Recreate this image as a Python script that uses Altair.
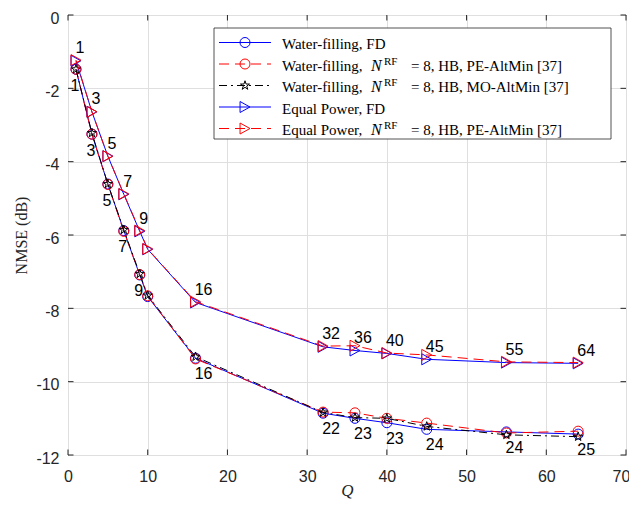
import math
import altair as alt
import pandas as pd

# ---------------- data ----------------
Q = [1, 3, 5, 7, 9, 10, 16, 32, 36, 40, 45, 55, 64]
wf_fd = [-1.48, -3.25, -4.61, -5.88, -7.09, -7.68, -9.36, -10.86, -11.00, -11.12, -11.30, -11.37, -11.43]
wf_hb_pe = [-1.48, -3.25, -4.62, -5.90, -7.08, -7.66, -9.38, -10.83, -10.85, -11.00, -11.13, -11.40, -11.35]
wf_hb_mo = [-1.48, -3.22, -4.61, -5.86, -7.06, -7.65, -9.32, -10.84, -10.98, -11.00, -11.22, -11.45, -11.50]
ep_fd = [-1.25, -2.64, -3.85, -4.89, -5.90, -6.39, -7.84, -9.05, -9.15, -9.23, -9.39, -9.48, -9.50]
ep_hb_pe = [-1.23, -2.64, -3.85, -4.88, -5.88, -6.38, -7.82, -9.03, -9.02, -9.22, -9.27, -9.46, -9.48]
ep_labels = ["1", "3", "5", "7", "9", None, "16", "32", "36", "40", "45", "55", "64"]
wf_labels = ["1", "3", "5", "7", "9", None, "16", "22", "23", "23", "24", "24", "25"]
x_ticks = [0, 10, 20, 30, 40, 50, 60, 70]
y_ticks = [-12, -10, -8, -6, -4, -2, 0]

legend_prefix = ["Water-filling, FD", "Water-filling, ", "Water-filling, ", "Equal Power, FD", "Equal Power, "]
legend_suffix = [None, "= 8, HB, PE-AltMin [37]", "= 8, HB, MO-AltMin [37]", None, "= 8, HB, PE-AltMin [37]"]

# ---------------- styles ----------------
W, H = 558, 440
OX, OY = 68, 15  # plot origin on the page
AX = "#262626"
GRID = "#dfdfdf"
SANS = "Liberation Sans"
SERIF = "Liberation Serif"
MINUS_FIX = "replace(datum.label, '\u2212', '-')"


def star_path():
    pts = []
    for k in range(10):
        ang = math.radians(-90 + 36 * k)
        r = 1.0 if k % 2 == 0 else 0.382
        pts.append(f"{r * math.cos(ang):.3f},{r * math.sin(ang):.3f}")
    return "M" + "L".join(pts) + "Z"


TRI = "M-0.9,-1L0.9,0L-0.9,1Z"
STAR = star_path()
DASH = [10, 6]
DASHDOT = [8, 4, 2, 4]

styles = [
    dict(vals=wf_fd, color="#0000ff", dash=None, shape="circle", size=100),
    dict(vals=wf_hb_pe, color="#ff0000", dash=DASH, shape="circle", size=100),
    dict(vals=wf_hb_mo, color="#000000", dash=DASHDOT, shape=STAR, size=90),
    dict(vals=ep_fd, color="#0000ff", dash=None, shape=TRI, size=121),
    dict(vals=ep_hb_pe, color="#ff0000", dash=DASH, shape=TRI, size=121),
]

xscale = alt.Scale(domain=[0, 70], nice=False, zero=False)
yscale = alt.Scale(domain=[-12, 0], nice=False, zero=False)

x_axis = alt.Axis(values=x_ticks, title="Q", grid=True, gridColor=GRID, gridWidth=1,
                  ticks=False, tickSize=0, domain=False, labelFont=SANS, labelFontSize=16,
                  labelColor=AX, labelPadding=13, labelFlush=False, labelExpr=MINUS_FIX,
                  labelOffset={"condition": {"test": "datum.value >= 70", "value": -5}, "value": 0},
                  titleFont=SERIF, titleFontStyle="italic", titleFontSize=17,
                  titleFontWeight="normal", titleColor=AX, titleY=40,
                  titleBaseline="alphabetic")
y_axis = alt.Axis(values=y_ticks, title="NMSE (dB)", grid=True, gridColor=GRID, gridWidth=1,
                  ticks=False, tickSize=0, domain=False, labelFont=SANS, labelFontSize=16,
                  labelColor=AX, labelPadding=9, labelOffset=3, labelFlush=False,
                  labelExpr=MINUS_FIX,
                  titleFont=SERIF, titleFontSize=16, titleFontWeight="normal", titleColor=AX,
                  titleX=-42, titleY=H / 2, titleAngle=270, titleAlign="center",
                  titleBaseline="alphabetic")

X = lambda f: alt.X(f, scale=xscale, axis=x_axis)
Y = lambda f: alt.Y(f, scale=yscale, axis=y_axis)

layers = []

# inward tick marks on all four sides
xt = pd.DataFrame({"Q": x_ticks})
yt = pd.DataFrame({"v": y_ticks})
layers.append(alt.Chart(xt).mark_rule(color=AX, strokeWidth=1).encode(
    x=X("Q:Q"), y=alt.value(H), y2=alt.value(H - 5.5)))
layers.append(alt.Chart(xt).mark_rule(color=AX, strokeWidth=1).encode(
    x=X("Q:Q"), y=alt.value(0), y2=alt.value(5.5)))
layers.append(alt.Chart(yt).mark_rule(color=AX, strokeWidth=1).encode(
    y=Y("v:Q"), x=alt.value(0), x2=alt.value(5.5)))
layers.append(alt.Chart(yt).mark_rule(color=AX, strokeWidth=1).encode(
    y=Y("v:Q"), x=alt.value(W), x2=alt.value(W - 5.5)))

# data series
for s in styles:
    df = pd.DataFrame({"Q": Q, "v": s["vals"]})
    base = alt.Chart(df).encode(x=X("Q:Q"), y=Y("v:Q"))
    lk = dict(color=s["color"], strokeWidth=1)
    if s["dash"]:
        lk["strokeDash"] = s["dash"]
    layers.append(base.mark_line(**lk))
    layers.append(base.mark_point(shape=s["shape"], size=s["size"], filled=False,
                                  color=s["color"], strokeWidth=1, opacity=1))

# point annotations
ep_df = pd.DataFrame({"Q": Q, "v": ep_fd, "lab": ep_labels}).dropna()
wf_df = pd.DataFrame({"Q": Q, "v": wf_fd, "lab": wf_labels}).dropna()
for df, early, late in [(ep_df, (4, -12.5), (8, -12.5)), (wf_df, (-1, 16.5), (8, 16))]:
    for cond, (dx, dy) in [("datum.Q < 12", early), ("datum.Q >= 12", late)]:
        layers.append(alt.Chart(df).transform_filter(cond).mark_text(
            font=SANS, fontSize=16, color="black", align="center", baseline="middle",
            dx=dx, dy=dy).encode(x=X("Q:Q"), y=Y("v:Q"), text="lab:N"))

# legend
one = alt.Data(values=[{"a": 1}])
layers.append(alt.Chart(one).mark_rect(fill="white", stroke=AX, strokeWidth=0.8).encode(
    x=alt.value(214 - OX), x2=alt.value(611 - OX), y=alt.value(28 - OY), y2=alt.value(139 - OY)))
for i, s in enumerate(styles):
    base_y = 49 + 21.5 * i - OY
    line_y = base_y - 6.5
    rk = dict(color=s["color"], strokeWidth=1)
    if s["dash"]:
        rk["strokeDash"] = s["dash"]
    layers.append(alt.Chart(one).mark_rule(**rk).encode(
        x=alt.value(219 - OX), x2=alt.value(271 - OX), y=alt.value(line_y)))
    layers.append(alt.Chart(one).mark_point(shape=s["shape"], size=s["size"], filled=False,
                                            color=s["color"], strokeWidth=1, opacity=1).encode(
        x=alt.value(245 - OX), y=alt.value(line_y)))
    tk = dict(font=SERIF, fontSize=15, color="black", align="left", baseline="alphabetic")
    layers.append(alt.Chart(one).mark_text(text=legend_prefix[i], **tk).encode(
        x=alt.value(282 - OX), y=alt.value(base_y)))
    if legend_suffix[i]:
        layers.append(alt.Chart(one).mark_text(text="N", fontStyle="italic",
                                               **{**tk, "fontSize": 16}).encode(
            x=alt.value(371 - OX), y=alt.value(base_y)))
        layers.append(alt.Chart(one).mark_text(text="RF", **{**tk, "fontSize": 11}).encode(
            x=alt.value(384 - OX), y=alt.value(base_y - 6)))
        layers.append(alt.Chart(one).mark_text(text=legend_suffix[i], **tk).encode(
            x=alt.value(411 - OX), y=alt.value(base_y)))

chart = alt.layer(*layers).properties(
    width=W, height=H,
    padding={"left": OX - 8, "top": OY - 8, "right": 3, "bottom": 45},
    autosize=alt.AutoSizeParams(type="none"),
).configure_view(stroke=AX, strokeWidth=1)

chart.save("out.html", embed_options={"renderer": "svg", "actions": False})
